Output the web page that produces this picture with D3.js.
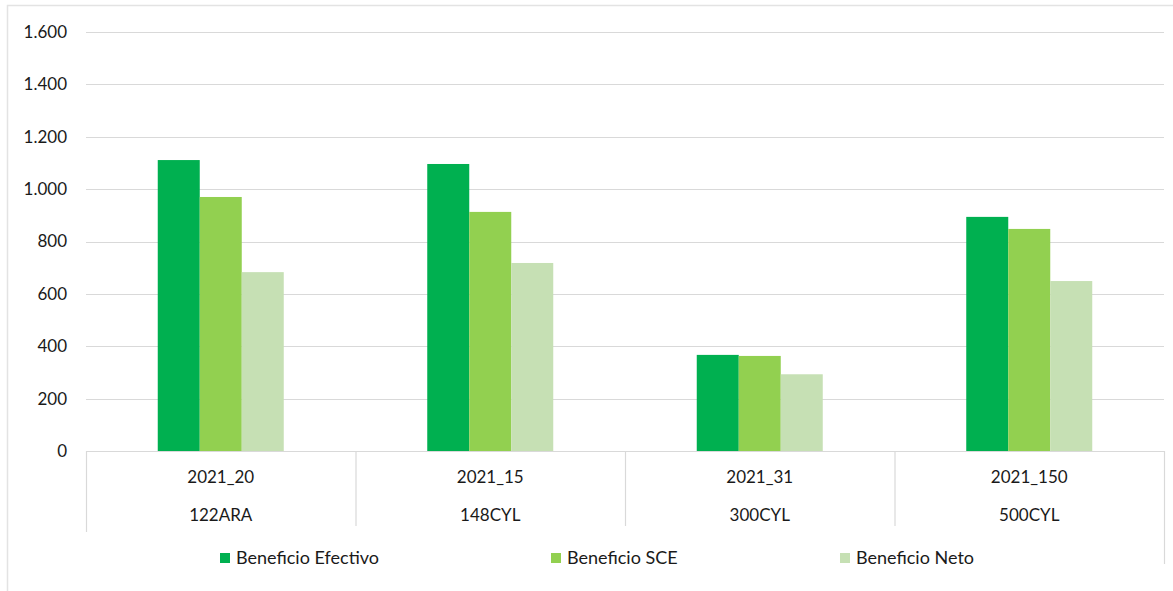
<!DOCTYPE html>
<html><head><meta charset="utf-8">
<script src="https://cdn.jsdelivr.net/npm/d3@7"></script>
<style>body{margin:0;background:#fff;} svg{display:block;}</style>
</head><body>
<svg id="chart" width="1173" height="591"></svg>
<script>
const codes = ["2021_20","2021_15","2021_31","2021_150"];
const regions = ["122ARA","148CYL","300CYL","500CYL"];
const series = ["Beneficio Efectivo","Beneficio SCE","Beneficio Neto"];
const efectivo = [1111, 1096, 367, 894];
const sce = [970, 913, 363, 848];
const neto = [683, 718, 293, 649];
const yTicks = [0,200,400,600,800,1000,1200,1400,1600];
const colors = ["#00B050","#92D050","#C6E0B4"];

const values = [efectivo, sce, neto];
const svg = d3.select("#chart");
const font = "Lato, 'Open Sans', sans-serif";
const L = 86, R = 1164, T = 32, B = 451;

// outer border
svg.append("path").attr("d","M7.5,600 V5.5 H1180").attr("fill","none").attr("stroke","#e3e3e3").attr("stroke-width",1.5);

const x = d3.scaleBand().domain(codes).range([L,R]).padding(0);
const xs = d3.scaleBand().domain(series).range([0,126]);
const y = d3.scaleLinear().domain([0,1600]).range([B,T]);

// gridlines
svg.append("g").selectAll("line").data(yTicks.filter(d=>d>0)).join("line")
  .attr("x1",L).attr("x2",R).attr("y1",d=>Math.round(y(d))+0.5).attr("y2",d=>Math.round(y(d))+0.5)
  .attr("stroke","#d9d9d9").attr("stroke-width",1.2);

// y axis labels
const fmt = d => d3.format(",")(d).replace(/,/g,".");
const yAxis = svg.append("g").attr("transform",`translate(${L},0)`)
  .call(d3.axisLeft(y).tickValues(yTicks).tickFormat(fmt).tickSize(0).tickPadding(19));
yAxis.select(".domain").remove();
yAxis.selectAll("text").attr("font-family",font).attr("font-size",17).attr("fill","#1a1a1a");

// bars
const groups = svg.append("g").selectAll("g").data(codes).join("g")
  .attr("transform",d=>`translate(${x(d)+x.bandwidth()/2-63},0)`);
groups.selectAll("rect").data((d,i)=>series.map((s,j)=>({s, v: values[j][i]}))).join("rect")
  .attr("x",d=>xs(d.s)).attr("width",xs.bandwidth())
  .attr("y",d=>y(d.v)).attr("height",d=>B-y(d.v))
  .attr("fill",(d,j)=>colors[j]);

// category axis
svg.append("line").attr("x1",L).attr("x2",R).attr("y1",B+0.5).attr("y2",B+0.5).attr("stroke","#d9d9d9").attr("stroke-width",1.2);
const bounds = codes.map(c=>x(c)).concat([R]);
svg.append("g").selectAll("line").data(bounds).join("line")
  .attr("x1",d=>d+0.5).attr("x2",d=>d+0.5).attr("y1",B)
  .attr("y2",(d,i)=> i===0 ? 532 : (i===bounds.length-1 ? 564 : 526))
  .attr("stroke","#d9d9d9").attr("stroke-width",1.2);
svg.append("g").selectAll("text").data(codes).join("text")
  .attr("x",d=>x(d)+x.bandwidth()/2).attr("y",483).attr("text-anchor","middle")
  .attr("font-family",font).attr("font-size",17).attr("fill","#1a1a1a").text(d=>d);
svg.append("g").selectAll("text").data(regions).join("text")
  .attr("x",(d,i)=>x(codes[i])+x.bandwidth()/2).attr("y",521).attr("text-anchor","middle")
  .attr("font-family",font).attr("font-size",17).attr("fill","#1a1a1a").text(d=>d);

// legend
const legX = [220, 551, 840];
const leg = svg.append("g").selectAll("g").data(series).join("g")
  .attr("transform",(d,i)=>`translate(${legX[i]},553)`);
leg.append("rect").attr("width",10).attr("height",10).attr("fill",(d,i)=>colors[i]);
leg.append("text").attr("x",16).attr("y",11).attr("font-family",font).attr("font-size",18).attr("fill","#1a1a1a").text(d=>d);
</script>
</body></html>
